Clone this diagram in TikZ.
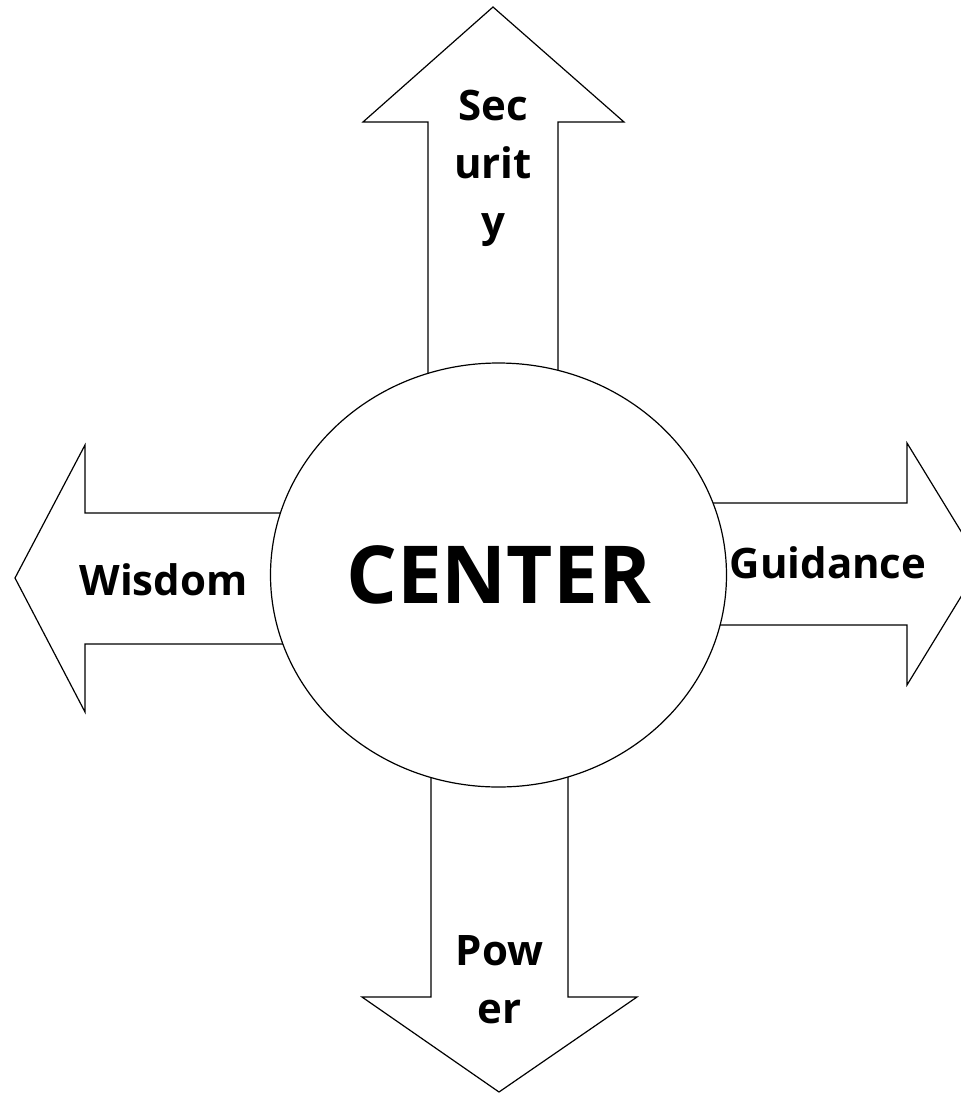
\documentclass[tikz,border=0pt]{standalone}
\usepackage{fontspec}
\setmainfont{Open Sans}
\usetikzlibrary{shapes.geometric}

\tikzset{
  arrowbody/.style={draw, fill=white},
  word/.style={font=\bfseries\fontsize{21}{29}\selectfont, inner sep=0pt, align=center}
}

\begin{document}
\begin{tikzpicture}[x=0.5pt, y=-0.5pt, line width=0.6pt]
            \useasboundingbox (0,0) rectangle (961,1094);
            \clip (0,0) rectangle (961,1094);
            % the four arrows
            \draw[arrowbody] (428,420) -- (428,122) -- (363,122) -- (493,7) -- (624,122) -- (558,122) -- (558,420) -- cycle;
            \draw[arrowbody] (431,740) -- (431,997) -- (362,997) -- (499,1092) -- (637,997) -- (568,997) -- (568,740) -- cycle;
            \draw[arrowbody] (320,513) -- (85,513) -- (85,445) -- (15,578) -- (85,712) -- (85,644) -- (320,644) -- cycle;
            \draw[arrowbody] (680,503) -- (907,503) -- (907,443) -- (981,564) -- (907,685) -- (907,625) -- (680,625) -- cycle;
            % centre
            \node[draw, fill=white, ellipse, inner sep=0pt, minimum width=228pt, minimum height=212pt,
                  font=\bfseries\fontsize{40}{48}\selectfont] (center) at (498.5,575) {CENTER};
            \node[word, anchor=base] (security) at (493,236) {Sec\\urit\\y};
            \node[word, anchor=base] (power) at (499.5,1023) {Pow\\er};
            \node[word, anchor=base] (wisdom) at (163.5,595) {Wisdom};
            \node[word, anchor=base] (guidance) at (828,578) {Guidance};
        \end{tikzpicture}
\end{document}
